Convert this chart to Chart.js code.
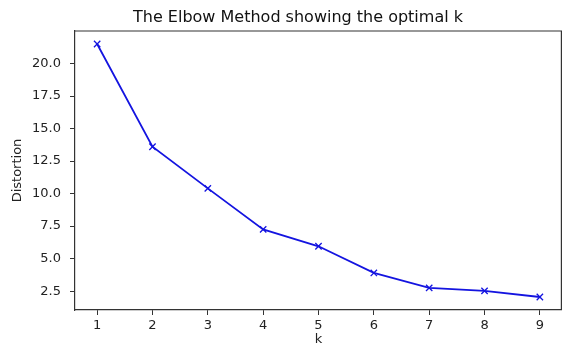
<!DOCTYPE html>
<html>
<head>
<meta charset="utf-8">
<script src="https://cdn.jsdelivr.net/npm/chart.js@4.4.1/dist/chart.umd.min.js"></script>
<style>
  html, body { margin: 0; padding: 0; background: #fff; }
  #wrap { width: 562px; height: 347px; }
</style>
</head>
<body>
<div id="wrap"><canvas id="elbow" width="562" height="347"></canvas></div>
<script>
// k values and distortion for each k
const kValues = [1, 2, 3, 4, 5, 6, 7, 8, 9];
const distortions = [21.5, 13.6, 10.4, 7.25, 5.95, 3.9, 2.75, 2.52, 2.05];
const yTicks = [2.5, 5.0, 7.5, 10.0, 12.5, 15.0, 17.5, 20.0];

const titleText = 'The Elbow Method showing the optimal k';
const axisColor = '#333';
const font = 'DejaVu Sans';

let points = kValues.map((k, i) => ({ x: k, y: distortions[i] }));

let ctx = document.getElementById('elbow').getContext('2d');

new Chart(ctx, {
    type: 'line',
    data: {
        datasets: [{
            label: 'Distortion',
            data: points,
            borderColor: '#1414e0',
            borderWidth: 1.8,
            pointStyle: 'crossRot',
            pointRadius: 4.5,
            pointBorderColor: '#1414e0',
            pointBorderWidth: 1.3,
            fill: false,
            tension: 0
        }]
    },
    options: {
        responsive: false,
        animation: false,
        layout: {
            autoPadding: false,
            padding: { left: 0, right: 0, top: 31, bottom: 0 }
        },
        plugins: {
            legend: { display: false },
            tooltip: { enabled: false },
            title: { display: false }
        },
        scales: {
            x: {
                type: 'linear',
                min: 0.6,
                max: 9.4,
                afterBuildTicks(scale) {
                    scale.ticks = kValues.map(v => ({ value: v }));
                },
                afterFit(scale) {
                    scale.height = 37;
                    scale.paddingLeft = 0;
                    scale.paddingRight = 0;
                },
                grid: {
                    drawOnChartArea: false,
                    drawTicks: true,
                    tickLength: 5,
                    tickWidth: 1,
                    tickColor: axisColor
                },
                border: { color: axisColor, width: 1.2 },
                ticks: {
                    color: '#222',
                    font: { family: font, size: 13 },
                    padding: 3,
                    maxRotation: 0,
                    callback: v => String(v)
                },
                title: {
                    display: true,
                    text: 'k',
                    color: '#222',
                    font: { family: font, size: 13 },
                    padding: { top: 0, bottom: 0 }
                }
            },
            y: {
                type: 'linear',
                min: 1.05,
                max: 22.5,
                afterBuildTicks(scale) {
                    scale.ticks = yTicks.map(v => ({ value: v }));
                },
                afterFit(scale) {
                    scale.width = 75;
                    scale.paddingTop = 0;
                    scale.paddingBottom = 0;
                },
                grid: {
                    drawOnChartArea: false,
                    drawTicks: true,
                    tickLength: 5,
                    tickWidth: 1,
                    tickColor: axisColor
                },
                border: { color: axisColor, width: 1.2 },
                ticks: {
                    color: '#222',
                    font: { family: font, size: 13 },
                    padding: 9,
                    callback: v => v.toFixed(1)
                },
                title: {
                    display: true,
                    text: 'Distortion',
                    color: '#222',
                    font: { family: font, size: 13 },
                    padding: { top: 10, bottom: 0 }
                }
            }
        }
    },
    plugins: [{
        // axes box spines on top and right, plus the title above the box
        id: 'frame',
        afterDraw(chart) {
            let a = chart.chartArea;
            let c = chart.ctx;
            c.save();
            c.strokeStyle = axisColor;
            c.lineWidth = 1.2;
            c.beginPath();
            c.moveTo(a.left, a.top);
            c.lineTo(a.right - 0.6, a.top);
            c.lineTo(a.right - 0.6, a.bottom);
            c.stroke();

            c.fillStyle = '#111';
            c.font = '16px "' + font + '"';
            c.textAlign = 'center';
            c.textBaseline = 'middle';
            c.fillText(titleText, 298, 18);
            c.restore();
        }
    }]
});
</script>
</body>
</html>
